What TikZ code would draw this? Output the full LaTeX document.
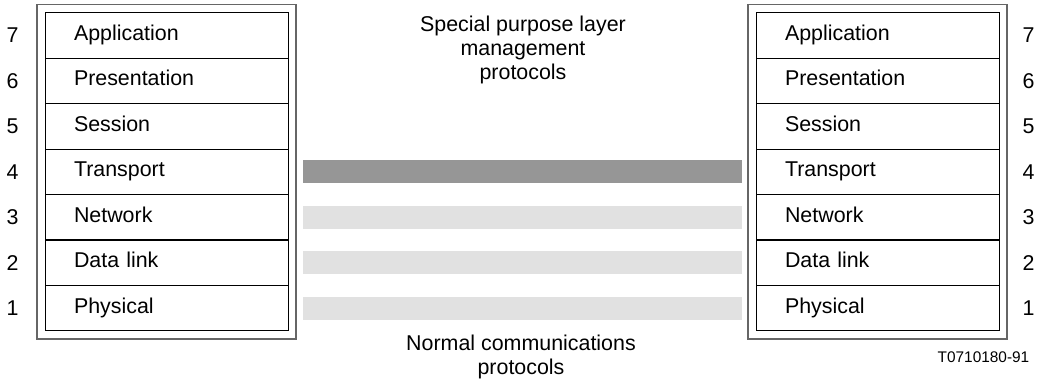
\documentclass[tikz,border=0pt]{standalone}
\usepackage{fontspec}
\setmainfont{Liberation Sans}
\usetikzlibrary{fit,positioning}

\definecolor{mgmtgray}{HTML}{969696}
\definecolor{normgray}{HTML}{E1E1E1}

\tikzset{
  layer/.style={draw, line width=0.5pt, minimum width=121.5pt, minimum height=22.7pt,
    text width=92.5pt, inner xsep=14.5pt, align=left, text height=8pt, text depth=3.2pt,
    font=\fontsize{10.7}{12}\selectfont},
  stack/.style={draw=black!60, line width=0.6pt, inner sep=3.75pt},
  num/.style={font=\fontsize{10.7}{12}\selectfont},
  bar/.style={line width=11.5pt},
  caption/.style={align=center, font=\fontsize{10.7}{12}\selectfont},
}

\begin{document}
\begin{tikzpicture}[x=0.5pt,y=-0.5pt]
  \useasboundingbox (0,0) rectangle (1039,381);
  % the two seven-layer stacks
  \foreach \n/\name in {7/Application,6/Presentation,5/Session,4/Transport,3/Network,2/Data link,1/Physical}{
    \node[layer] (L\n) at (166.5,{35.4+45.47*(7-\n)}) {\name};
    \node[layer] (R\n) at (877.5,{35.4+45.47*(7-\n)}) {\name};
    \node[num] (nl\n) at ([xshift=-16pt]L\n.west) {\n};
    \node[num] (nr\n) at ([xshift=14.5pt]R\n.east) {\n};
  }
  \node[stack, fit=(L7)(L1)] (lstack) {};
  \node[stack, fit=(R7)(R1)] (rstack) {};
  % protocols between peer layers
  \draw[bar, mgmtgray] ([xshift=7.4pt]L4.east) -- ([xshift=-7pt]R4.west);
  \foreach \n in {3,2,1}
    \draw[bar, normgray] ([xshift=7.4pt]L\n.east) -- ([xshift=-7pt]R\n.west);
  % captions
  \node[caption] (special) at (523,50) {Special purpose layer\\management\\protocols};
  \node[caption] (normal) at (521,357) {Normal communications\\protocols};
  \node[font=\fontsize{7.7}{9}\selectfont] (figref) at (983.5,357) {T0710180-91};
\end{tikzpicture}
\end{document}
